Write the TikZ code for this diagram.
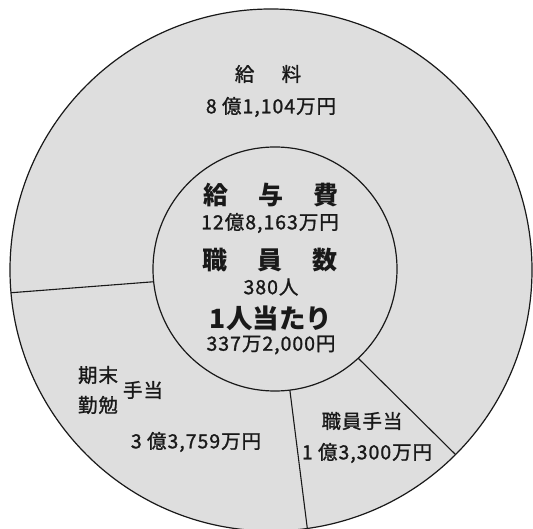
\documentclass[tikz,border=0pt]{standalone}
\usepackage{fontspec}
\newfontfamily\jpfont[FakeBold=1.2,LetterSpace=5]{Noto Sans CJK JP}
\newfontfamily\jpbold{Noto Sans CJK JP}
\usetikzlibrary{positioning}
\definecolor{paper}{gray}{0.87}
\definecolor{ink}{gray}{0.1}

\begin{document}
\begin{tikzpicture}[
				x=1pt,y=-1pt,
				ring/.style={draw=ink,circle,line width=1.2pt,inner sep=0pt,outer sep=0pt,fill=paper},
				divider/.style={draw=ink,line width=1.1pt},
				amount/.style={font=\jpfont\fontsize{19.5}{19.5}\selectfont,text=ink,inner sep=0pt},
				heading/.style={font=\jpbold\bfseries\fontsize{25}{25}\selectfont,text=ink,inner sep=0pt}
				]
				
				% Sfondo
				\fill[white] (0,0) rectangle (533,529);
				\useasboundingbox (0,0) rectangle (533,529);
				
				% Cerchi
				\node[ring,minimum size=522pt] (rim) at (271,270) {};
				\node[ring,minimum size=244pt] (core) at (275,269) {};
				
				% Divisioni
				\draw[divider] (core.186.5) -- (rim.185.7);
				\draw[divider] (core.277) -- (rim.278);
				\draw[divider] (core.313.4) -- (rim.315.2);
				
				% Centro
				\node[heading] (total) at (271,195) {給\hspace{1.2em}与\hspace{1.2em}費};
				\node[amount] (totalval) at (270,223) {12億8,163万円};
				\node[heading] (staff) at (270,260) {職\hspace{1.2em}員\hspace{1.2em}数};
				\node[amount] (staffval) at (271,287) {380人};
				\node[heading,font=\jpbold\bfseries\fontsize{26.5}{26.5}\selectfont] (perhead) at (271,318) {1人当たり};
				\node[amount] (perheadval) at (271,345) {337万2,000円};
				
				% Settori
				\node[amount] (salary) at (268,74) {給\hspace{1.4em}料};
				\node[amount] (salaryval) at (271,107) {8 億1,104万円};
				
				\node[amount] (bonus1) at (98,375) {期末};
				\node[amount] (bonus2) at (98,405) {勤勉};
				\node[amount] (bonus3) at (143,390) {手当};
				\node[amount] (bonusval) at (196,442) {3 億3,759万円};
				
				\node[amount] (allow) at (362,421) {職員手当};
				\node[amount] (allowval) at (367,453) {1 億3,300万円};
				
			\end{tikzpicture}
\end{document}
